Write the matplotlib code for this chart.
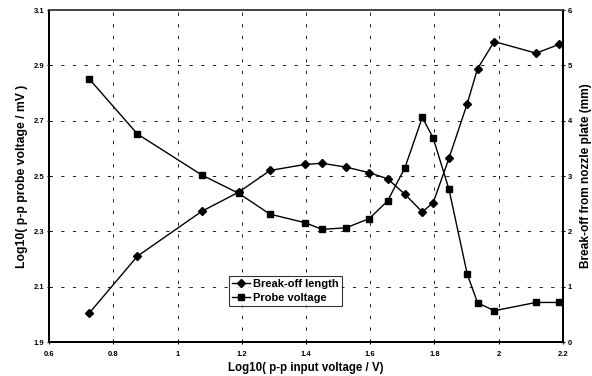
"""Break-off length and probe voltage vs. input voltage (log10)"""
import matplotlib
matplotlib.use("Agg")
import matplotlib.pyplot as plt

plt.rcParams["font.family"] = ["Liberation Sans", "DejaVu Sans"]
plt.rcParams["font.weight"] = "bold"

# log10 of p-p input voltage
input_v = [0.725, 0.875, 1.075, 1.191, 1.288, 1.398, 1.450, 1.525, 1.597, 1.654,
           1.708, 1.762, 1.796, 1.845, 1.902, 1.934, 1.986, 2.116, 2.189]
# log10 of p-p probe voltage (left axis)
probe_v = [2.851, 2.652, 2.504, 2.437, 2.362, 2.331, 2.307, 2.313, 2.346, 2.410,
           2.530, 2.712, 2.637, 2.452, 2.145, 2.042, 2.013, 2.043, 2.043]
# break-off distance in mm (right axis)
breakoff_mm = [0.52, 1.55, 2.36, 2.71, 3.10, 3.21, 3.23, 3.16, 3.06, 2.95,
               2.67, 2.35, 2.52, 3.32, 4.31, 4.94, 5.43, 5.22, 5.38]

x_ticks = [0.6, 0.8, 1.0, 1.2, 1.4, 1.6, 1.8, 2.0, 2.2]
x_labels = ["0.6", "0.8", "1", "1.2", "1.4", "1.6", "1.8", "2", "2.2"]
left_ticks = [1.9, 2.1, 2.3, 2.5, 2.7, 2.9, 3.1]
right_ticks = [0, 1, 2, 3, 4, 5, 6]

fig = plt.figure(figsize=(5.92, 3.76), dpi=100)
ax = fig.add_axes([0.0828, 0.0904, 0.8682, 0.883])
ax2 = ax.twinx()

grid_style = dict(color="black", linewidth=0.6, linestyle=(0, (4, 10)))
for xv in x_ticks[1:-1]:
    ax.axvline(xv, **grid_style, zorder=0)
for yv in left_ticks[1:-1]:
    ax.axhline(yv, **grid_style, zorder=0)

ln_probe, = ax.plot(input_v, probe_v, color="black", linewidth=1.0,
                    marker="s", markersize=4.6, label="Probe voltage")
ln_break, = ax2.plot(input_v, breakoff_mm, color="black", linewidth=1.0,
                     marker="D", markersize=3.6, label="Break-off length")

ax.set_xlim(0.6, 2.2)
ax.set_ylim(1.9, 3.1)
ax2.set_ylim(0, 6)
ax.set_xticks(x_ticks)
ax.set_xticklabels(x_labels)
ax.set_yticks(left_ticks)
ax.set_yticklabels([f"{v:.1f}" for v in left_ticks])
ax2.set_yticks(right_ticks)

for a in (ax, ax2):
    a.tick_params(labelsize=5.5, length=3, width=0.8, direction="inout", pad=2)
    for side in ("left", "right", "bottom"):
        a.spines[side].set_linewidth(1.3)
    a.spines["top"].set_color("#444444")
    a.spines["top"].set_linewidth(1.2)
ax.tick_params(axis="x", pad=5)

ax.set_xlabel("Log10( p-p input voltage / V)", fontsize=8.3, fontweight="bold", labelpad=3)
ax.set_ylabel("Log10( p-p probe voltage / mV )", fontsize=8.8, fontweight="bold", labelpad=4)
ax2.set_ylabel("Break-off from nozzle plate (mm)", fontsize=8.6, fontweight="bold", labelpad=6)

leg = ax.legend([ln_break, ln_probe], ["Break-off length", "Probe voltage"],
                loc="upper left", bbox_to_anchor=(0.350, 0.199), borderaxespad=0,
                fontsize=8, frameon=True, fancybox=False, handlelength=1.6,
                handletextpad=0.3, borderpad=0.3, labelspacing=0.35)
leg.get_frame().set_edgecolor("black")
leg.get_frame().set_linewidth(0.8)
for t in leg.get_texts():
    t.set_fontweight("bold")

fig.savefig("out.png", dpi=100)
plt.close(fig)
